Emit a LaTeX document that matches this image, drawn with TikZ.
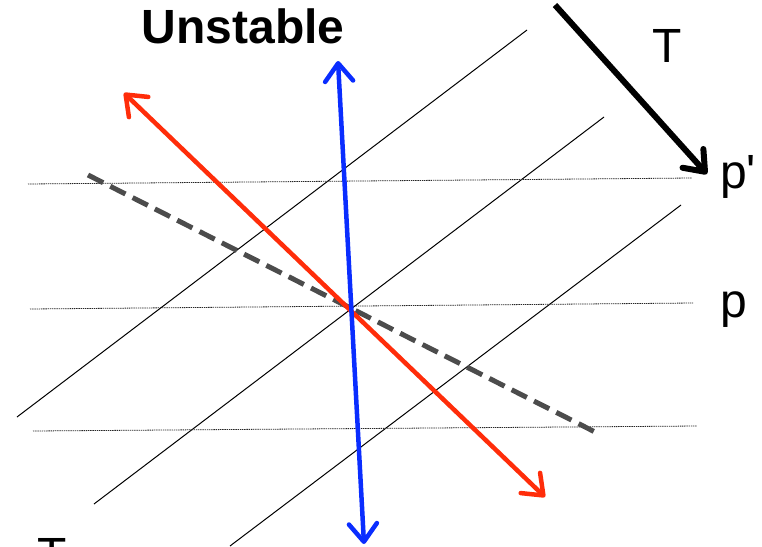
\documentclass[tikz,border=0pt]{standalone}
\usepackage{fontspec}
\setmainfont{Liberation Sans}
\usetikzlibrary{arrows.meta}
\begin{document}
\begin{tikzpicture}[x=1pt,y=-1pt,
  barbtip/.tip={Straight Barb[length=18pt,width=28pt,line cap=round,line join=round]},
  bigbarbtip/.tip={Straight Barb[length=18pt,width=28pt,line cap=round,line join=round]},
  isoline/.style={line width=1pt,black},
  levelline/.style={line width=0.8pt,black!85,dash pattern=on 1.4pt off 0.8pt},
  redarrow/.style={line width=4.5pt,color={rgb,255:red,255;green,45;blue,10},barbtip-barbtip},
  bluearrow/.style={line width=4.5pt,color={rgb,255:red,10;green,45;blue,255},barbtip-barbtip},
  slopeline/.style={line width=5pt,color=black!70,dash pattern=on 17pt off 8pt},
  Tarrow/.style={line width=6pt,black,-bigbarbtip},
  lbl/.style={inner sep=0pt,font=\fontsize{48}{48}\selectfont}]
\useasboundingbox (0,0) rectangle (762,546);
% isotherms (thin diagonals)
\coordinate (d1a) at (17,417);  \coordinate (d1b) at (527,30);
\coordinate (d2a) at (94,504);  \coordinate (d2b) at (604,117);
\coordinate (d3a) at (230,546); \coordinate (d3b) at (681,205);
\draw[isoline] (d1a) -- (d1b);
\draw[isoline] (d2a) -- (d2b);
\draw[isoline] (d3a) -- (d3b);
% pressure levels
\coordinate (h1a) at (28,184);  \coordinate (h1b) at (692,178);
\coordinate (h2a) at (30,309);  \coordinate (h2b) at (693,303);
\coordinate (h3a) at (33,431);  \coordinate (h3b) at (697,426);
\draw[levelline] (h1a) -- (h1b);
\draw[levelline] (h2a) -- (h2b);
\draw[levelline] (h3a) -- (h3b);
% dashed grey line
\coordinate (ga) at (88,175); \coordinate (gb) at (597,433);
\draw[slopeline] (ga) -- (gb);
% red arrow
\coordinate (ra) at (124,93); \coordinate (rb) at (545,497);
\draw[redarrow] (ra) -- (rb);
% blue arrow
\coordinate (ba) at (338,61); \coordinate (bb) at (364,544);
\draw[bluearrow] (ba) -- (bb);
% black T arrow
\coordinate (ka) at (555,5); \coordinate (kb) at (707,174);
\draw[Tarrow] (ka) -- (kb);
% labels
\node[lbl,anchor=base west,font=\fontsize{48}{48}\selectfont\bfseries] (unst) at (141.5,43) {Unstable};
\node[lbl,anchor=base] (T1) at (667,62) {T};
\node[lbl,anchor=base west] (pp) at (720,188) {p\textquotesingle};
\node[lbl,anchor=base west] (p) at (720,317) {p};
\node[lbl,anchor=base] (T2) at (52.5,571) {T};
\end{tikzpicture}
\end{document}
